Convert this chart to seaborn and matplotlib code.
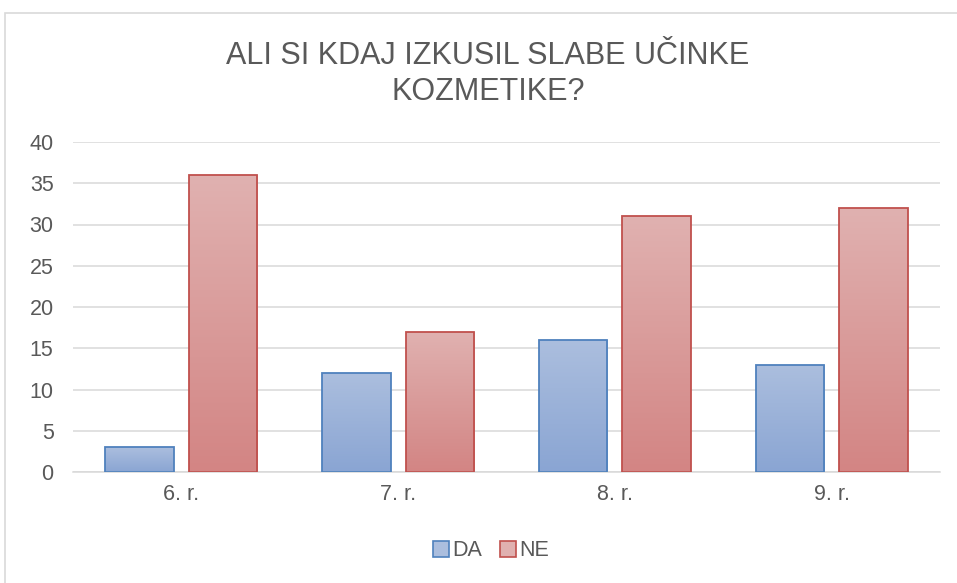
import numpy as np
import pandas as pd
import matplotlib
matplotlib.use("Agg")
import matplotlib.pyplot as plt
import seaborn as sns
from matplotlib.colors import to_rgb
from matplotlib.patches import Patch, Rectangle

razredi = ["6. r.", "7. r.", "8. r.", "9. r."]
da = [3, 12, 16, 13]
ne = [36, 17, 31, 32]
serije = ["DA", "NE"]
naslov = "ALI SI KDAJ IZKUSIL SLABE UČINKE\nKOZMETIKE?"

df = pd.DataFrame({
    "razred": razredi * 2,
    "odgovor": ["DA"] * len(razredi) + ["NE"] * len(razredi),
    "stevilo": da + ne,
})

# top / bottom colours of the gradient, edge colour
barve = {
    "DA": ("#abbede", "#8aa5d3", "#4f81bd"),
    "NE": ("#e0b1b0", "#d38584", "#c0504d"),
}
siva = "#595959"

sns.set_style("white")
plt.rcParams["font.family"] = ["Liberation Sans", "DejaVu Sans"]

fig = plt.figure(figsize=(9.57, 5.83), dpi=100)
ax = fig.add_axes([73 / 957, 1 - 472 / 583, 867 / 957, 330 / 583])

sns.barplot(data=df, x="razred", y="stevilo", hue="odgovor", order=razredi,
            hue_order=serije, palette={k: v[1] for k, v in barve.items()},
            width=0.77, gap=0.18, legend=False, ax=ax)

# Excel-like vertical gradient on each bar
for i, p in enumerate(ax.patches):
    serija = serije[i // len(razredi)]
    top, bot, edge = barve[serija]
    x0, y0 = p.get_x(), p.get_y()
    w, h = p.get_width(), p.get_height()
    grad = np.linspace(to_rgb(top), to_rgb(bot), 64).reshape(64, 1, 3)
    im = ax.imshow(grad, extent=[x0, x0 + w, y0, y0 + h], origin="upper",
                   aspect="auto", zorder=2, interpolation="bilinear")
    im.set_clip_path(p)
    p.set_facecolor("none")
    p.set_edgecolor(edge)
    p.set_linewidth(1.3)
    p.set_zorder(3)

ax.set_xlim(-0.5, len(razredi) - 0.5)
ax.set_ylim(0, 40)
ax.set_yticks(range(0, 41, 5))
ax.yaxis.grid(True, color="#d9d9d9", linewidth=1.1)
ax.set_axisbelow(True)
for s in ["left", "right", "top"]:
    ax.spines[s].set_visible(False)
ax.spines["bottom"].set_color("#d9d9d9")
ax.spines["bottom"].set_linewidth(1.1)
ax.tick_params(axis="both", length=0, labelsize=15.5, labelcolor=siva)
ax.tick_params(axis="x", pad=9)
ax.tick_params(axis="y", pad=14)
ax.set_xlabel("")
ax.set_ylabel("")

fig.text(488 / 957, 1 - 74 / 583, naslov, ha="center", va="center",
         fontsize=22, color=siva, linespacing=1.3)

rocke = [Patch(facecolor=barve[s][0], edgecolor=barve[s][2], linewidth=1.2)
         for s in serije]
fig.legend(rocke, serije, loc="center", bbox_to_anchor=(491 / 957, 1 - 551 / 583),
           ncol=2, frameon=False, fontsize=15.5, labelcolor=siva,
           handlelength=0.75, handleheight=0.75, handletextpad=0.15,
           columnspacing=0.8)

# chart-area border
fig.patches.append(Rectangle((5 / 957, -0.05), 1.0, 1 - 13 / 583 + 0.05,
                             transform=fig.transFigure, fill=False,
                             edgecolor="#d9d9d9", linewidth=1.2))

fig.savefig("out.png", dpi=100)
